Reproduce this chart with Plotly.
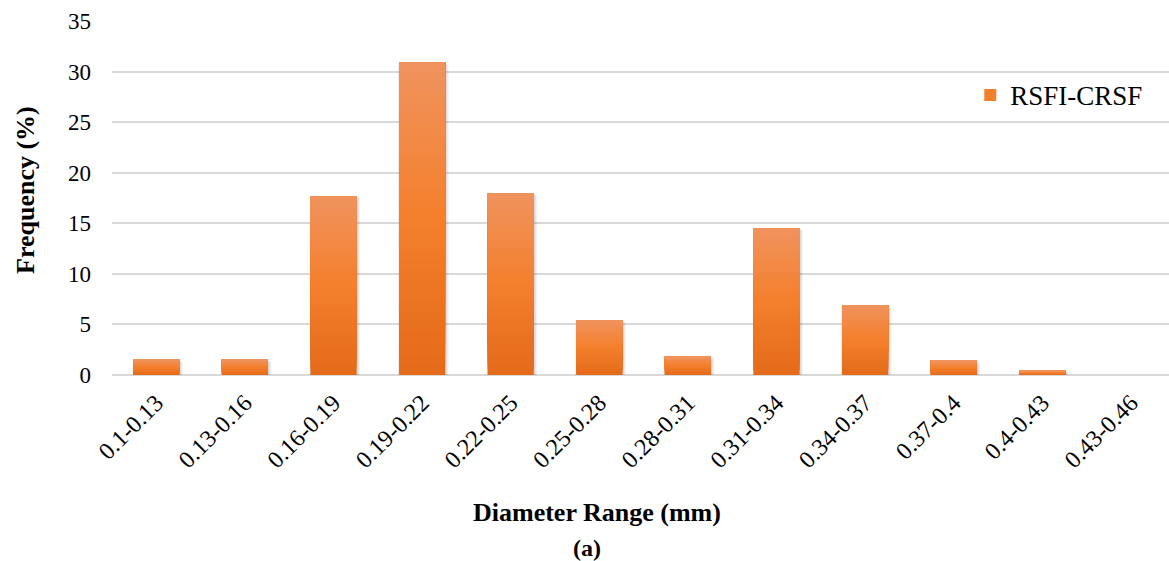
import plotly.graph_objects as go

# Diameter distribution of RSFI-CRSF fibres
categories = ["0.1-0.13", "0.13-0.16", "0.16-0.19", "0.19-0.22", "0.22-0.25",
              "0.25-0.28", "0.28-0.31", "0.31-0.34", "0.34-0.37", "0.37-0.4",
              "0.4-0.43", "0.43-0.46"]
frequency = [1.5, 1.5, 17.7, 30.9, 18.0, 5.4, 1.8, 14.5, 6.9, 1.4, 0.45, 0.0]
series_name = "RSFI-CRSF"
y_ticks = [0, 5, 10, 15, 20, 25, 30, 35]

FONT = "Liberation Serif, Times New Roman, serif"

# vertical gradient stops (bottom -> middle -> top)
bottom_rgb = (0xE3, 0x6A, 0x19)
mid_rgb = (0xF4, 0x7F, 0x2C)
top_rgb = (0xF0, 0x93, 0x5E)


def lerp(a, b, t):
    return tuple(round(a[i] + (b[i] - a[i]) * t) for i in range(3))


def grad_color(t):
    if t < 0.5:
        c = lerp(bottom_rgb, mid_rgb, t / 0.5)
    else:
        c = lerp(mid_rgb, top_rgb, (t - 0.5) / 0.5)
    return "rgb(%d,%d,%d)" % c


N_SEG = 30
BAR_WIDTH = 0.52
N_SHADOW = 4

fig = go.Figure()

# soft drop shadow: a few faint, slightly wider layers behind each bar
for j in range(N_SHADOW, 0, -1):
    w = BAR_WIDTH + 0.012 * j
    fig.add_trace(go.Bar(
        x=categories,
        y=[v + 0.05 * j for v in frequency],
        base=[-0.1 * j] * len(frequency),
        width=w,
        offset=-w / 2 + 0.004 * j,
        marker=dict(color="rgba(0,0,0,0.045)", line=dict(width=0)),
        showlegend=False,
        hoverinfo="skip",
    ))

# each bar is layered: every layer starts a bit higher and runs to the bar top,
# so the stack fades from dark (bottom) to light (top) without seams
for k in range(N_SEG):
    t = (k + 0.5) / N_SEG
    fig.add_trace(go.Bar(
        x=categories,
        y=[v * (1 - k / N_SEG) for v in frequency],
        base=[v * k / N_SEG for v in frequency],
        width=BAR_WIDTH,
        marker=dict(color=grad_color(t), line=dict(width=0)),
        name=series_name,
        showlegend=(k == N_SEG // 2),
        hoverinfo="skip",
    ))

fig.update_layout(
    width=1169,
    height=561,
    margin=dict(l=112, r=0, t=21, b=186),
    paper_bgcolor="white",
    plot_bgcolor="white",
    barmode="overlay",
    font=dict(family=FONT, color="black"),
    legend=dict(
        x=0.812, y=0.79, xanchor="left", yanchor="middle",
        font=dict(family=FONT, size=27, color="black"),
        bgcolor="rgba(0,0,0,0)",
        itemwidth=30,
    ),
    xaxis=dict(
        range=[-0.5, 11.43],
        tickangle=-45,
        tickfont=dict(family=FONT, size=24, color="black"),
        showgrid=False,
        showline=False,
        zeroline=False,
        ticks="",
        ticklabelstandoff=8,
        fixedrange=True,
    ),
    yaxis=dict(
        range=[0, 35],
        tickvals=y_ticks,
        tickfont=dict(family=FONT, size=23, color="black"),
        showgrid=True,
        gridcolor="#D9D9D9",
        gridwidth=2,
        zeroline=True,
        zerolinecolor="#D9D9D9",
        zerolinewidth=2,
        showline=False,
        ticks="",
        ticklabelstandoff=20,
        fixedrange=True,
    ),
    annotations=[
        dict(text="<b>Diameter Range (mm)</b>", xref="paper", yref="paper",
             x=0.459, y=(375 - 512) / 354, xanchor="center", yanchor="middle",
             showarrow=False, font=dict(family=FONT, size=26, color="black")),
        dict(text="<b>(a)</b>", xref="paper", yref="paper",
             x=(587 - 112) / 1057, y=(375 - 548) / 354, xanchor="center", yanchor="middle",
             showarrow=False, font=dict(family=FONT, size=24, color="black")),
        dict(text="<b>Frequency (%)</b>", xref="paper", yref="paper",
             x=(25 - 112) / 1057, y=(375 - 190) / 354, xanchor="center", yanchor="middle",
             textangle=-90, showarrow=False,
             font=dict(family=FONT, size=26, color="black")),
    ],
)

fig.write_html("out.html")
